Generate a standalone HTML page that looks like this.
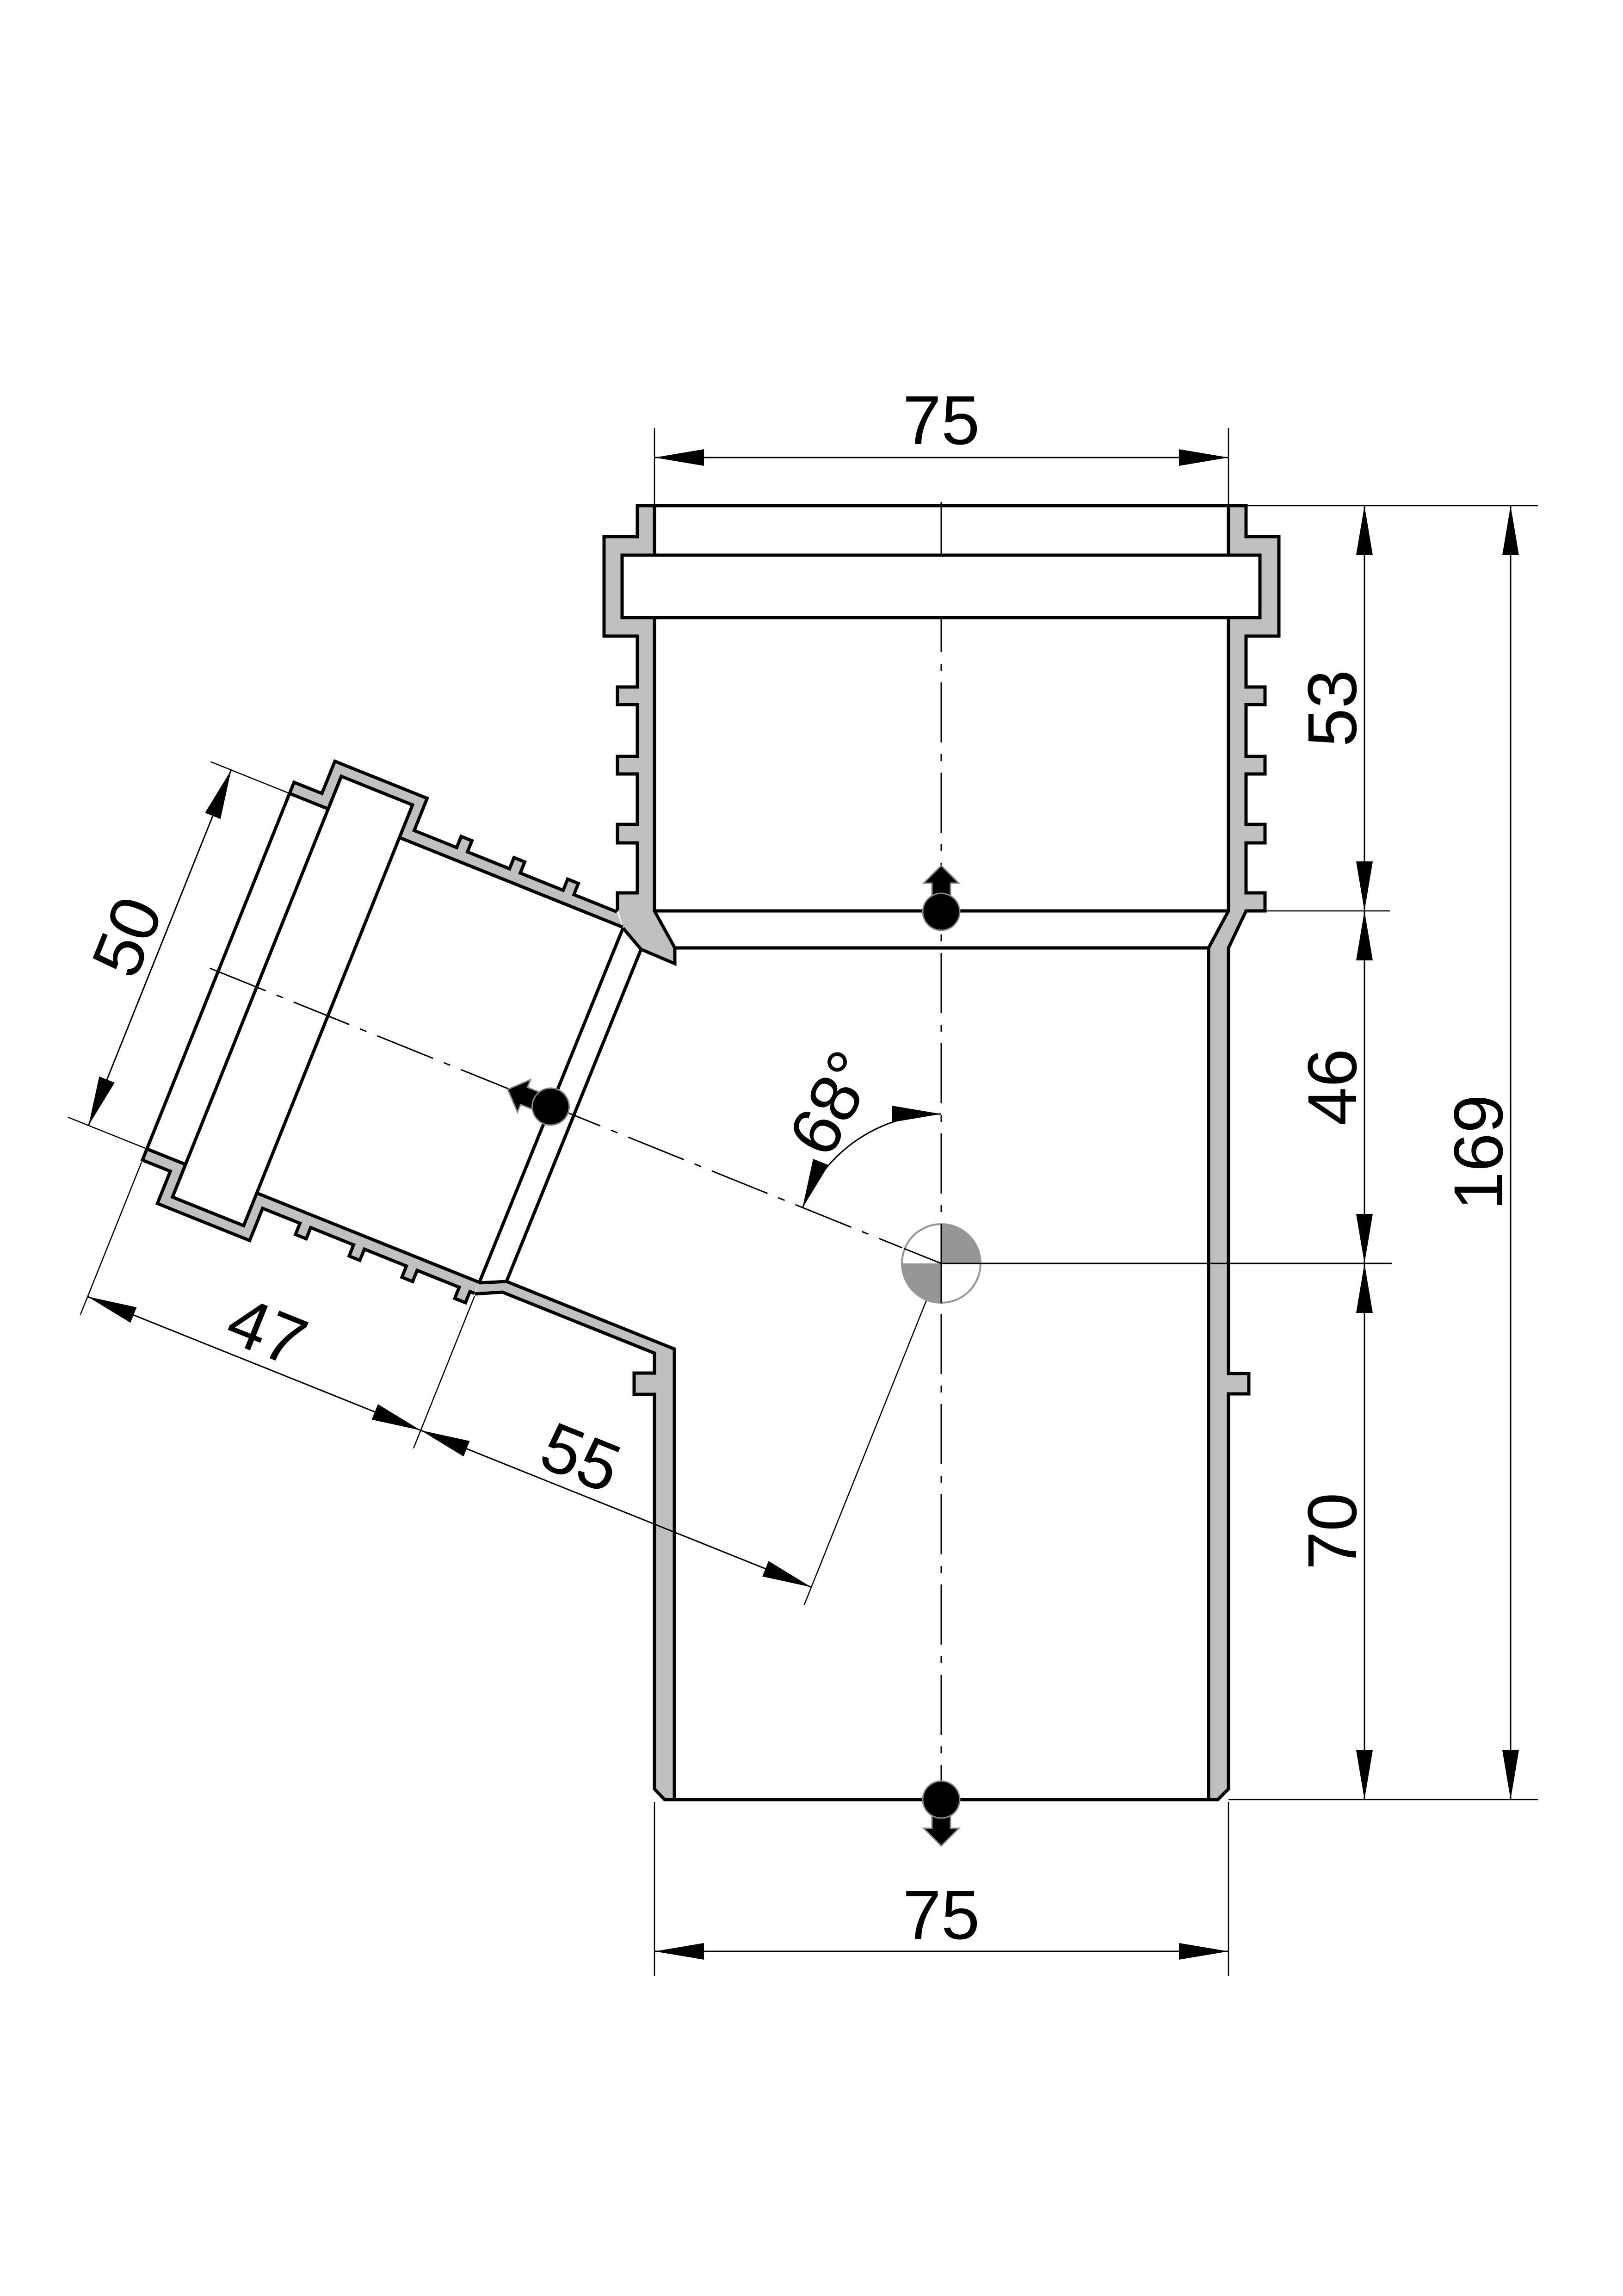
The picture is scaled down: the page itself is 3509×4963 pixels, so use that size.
<!DOCTYPE html>
<html><head><meta charset="utf-8"><style>html,body{margin:0;padding:0;background:#fff}svg{display:block}</style></head>
<body>
<svg xmlns="http://www.w3.org/2000/svg" width="3509" height="4963" viewBox="0 0 3509 4963">
<defs>
<marker id="ar" markerUnits="userSpaceOnUse" markerWidth="110" markerHeight="40" refX="107" refY="18" orient="auto-start-reverse" viewBox="0 0 110 40">
<path d="M0,0 L107,18 L0,36 z" fill="#000"/>
</marker>
</defs>
<rect width="3509" height="4963" fill="#fff"/>
<g font-family="Liberation Sans, DejaVu Sans, sans-serif" font-size="150" fill="#000">

<g stroke="#000" stroke-width="3" fill="none" stroke-dasharray="130 25 15 25">
<line x1="2035" y1="1085" x2="2035" y2="3890"/>
<line x1="454" y1="2093" x2="1950" y2="2697"/>
</g>

<g stroke="#000" stroke-width="7" stroke-linejoin="miter">
<polygon fill="#c0c0c0" stroke="none" points="1347,2006 1386,2052 1459,2083 1459,2049 1415,1969 1415,1093 1378,1093 1378,1160 1306,1160 1306,1375 1378,1375 1378,1485 1335,1485 1335,1523 1378,1523 1378,1635 1335,1635 1335,1673 1378,1673 1378,1782 1335,1782 1335,1822 1378,1822 1378,1930 1335,1930 1335,1967 1337,1967"/>
<polyline fill="none" points="1347,2006 1386,2052 1459,2083 1459,2049 1415,1969 1415,1093 1378,1093 1378,1160 1306,1160 1306,1375 1378,1375 1378,1485 1335,1485 1335,1523 1378,1523 1378,1635 1335,1635 1335,1673 1378,1673 1378,1782 1335,1782 1335,1822 1378,1822 1378,1930 1335,1930 1335,1967 1337,1967"/>

<polygon fill="#c0c0c0" stroke="none" points="1036,2773 1095,2770 1458,2916 1458,3890 1437,3890 1415,3867 1415,3014 1371,3014 1371,2968 1415,2968 1415,2925 1086,2793 1027,2797"/>
<polyline fill="none" points="1036,2773 1095,2770 1458,2916 1458,3890 1437,3890 1415,3867 1415,3014 1371,3014 1371,2968 1415,2968 1415,2925 1086,2793 1027,2797"/>

<polygon fill="#c0c0c0" points="2656,1093 2656,1969 2613,2049 2613,3890 2633,3890 2656,3867 2656,3013 2700,3013 2700,2969 2656,2969 2656,2049 2694,1969 2735,1969 2735,1930 2694,1930 2694,1822 2735,1822 2735,1782 2694,1782 2694,1673 2735,1673 2735,1635 2694,1635 2694,1523 2735,1523 2735,1485 2694,1485 2694,1375 2765,1375 2765,1160 2694,1160 2694,1093"/>

<rect x="1345" y="1200" width="1379" height="135" fill="#fff"/>
<line x1="1415" y1="1093" x2="2656" y2="1093"/>
<line x1="1415" y1="1969" x2="2656" y2="1969"/>
<line x1="1459" y1="2049" x2="2613" y2="2049"/>
<line x1="1437" y1="3890" x2="2633" y2="3890"/>
<line x1="1347" y1="2006" x2="1036" y2="2773"/>
<line x1="1386" y1="2052" x2="1095" y2="2770"/>
</g>

<g transform="translate(2035,2731) rotate(21.87) translate(0,-4)">
<g stroke="#000" stroke-width="7">
<polygon fill="#c0c0c0" stroke="none" points="-910,-414 -1430,-414 -1430,-490 -1596,-490 -1596,-414 -1686,-414 -1686,-440 -1621,-440 -1621,-515 -1406,-515 -1406,-440 -1307,-440 -1307,-466 -1282,-466 -1282,-440 -1184,-440 -1184,-466 -1159,-466 -1159,-440 -1059,-440 -1059,-466 -1034,-466 -1034,-440 -934,-440"/>
<polyline fill="none" points="-910,-414 -1430,-414 -1430,-490 -1596,-490 -1596,-414 -1686,-414 -1686,-440 -1621,-440 -1621,-515 -1406,-515 -1406,-440 -1307,-440 -1307,-466 -1282,-466 -1282,-440 -1184,-440 -1184,-466 -1159,-466 -1159,-440 -1059,-440 -1059,-466 -1034,-466 -1034,-440 -934,-440"/>
<polygon fill="#c0c0c0" stroke="none" points="-912,440 -923,440 -923,466 -948,466 -948,440 -1046,440 -1046,466 -1071,466 -1071,440 -1169,440 -1169,466 -1194,466 -1194,440 -1294,440 -1294,466 -1319,466 -1319,440 -1406,440 -1406,515 -1621,515 -1621,440 -1686,440 -1686,414 -1596,414 -1596,490 -1430,490 -1430,414 -912,414"/>
<polyline fill="none" points="-912,440 -923,440 -923,466 -948,466 -948,440 -1046,440 -1046,466 -1071,466 -1071,440 -1169,440 -1169,466 -1194,466 -1194,440 -1294,440 -1294,466 -1319,466 -1319,440 -1406,440 -1406,515 -1621,515 -1621,440 -1686,440 -1686,414 -1596,414 -1596,490 -1430,490 -1430,414 -912,414"/>
<line x1="-1686" y1="-414" x2="-1686" y2="414"/>
<line x1="-1596" y1="-490" x2="-1596" y2="490"/>
<line x1="-1430" y1="-414" x2="-1430" y2="414"/>
</g>
<g stroke="#000" stroke-width="2.5" fill="none">
<line x1="-1690" y1="-414" x2="-1870" y2="-414"/>
<line x1="-1690" y1="414" x2="-1870" y2="414"/>
<line x1="-1686" y1="445" x2="-1686" y2="800"/>
<line x1="-910" y1="445" x2="-910" y2="800"/>
<line x1="0" y1="4" x2="0" y2="800"/>
</g>
<g stroke="#000" stroke-width="3" fill="none">
<line x1="-1822" y1="-414" x2="-1822" y2="414" marker-start="url(#ar)" marker-end="url(#ar)"/>
<line x1="-1686" y1="758" x2="-910" y2="758" marker-start="url(#ar)" marker-end="url(#ar)"/>
<line x1="-910" y1="758" x2="0" y2="758" marker-start="url(#ar)" marker-end="url(#ar)"/>
</g>
<text transform="translate(-1845,4) rotate(-90)" text-anchor="middle">50</text>
<text x="-1298" y="735" text-anchor="middle">47</text>
<text x="-567" y="735" text-anchor="middle">55</text>
<g transform="translate(-910,4) rotate(-90)" fill="#000" stroke="#888" stroke-width="3">
<polygon points="-20,-30 -20,-62 -38,-62 0,-100 38,-62 20,-62 20,-30"/>
<circle cx="0" cy="0" r="40"/>
</g>
</g>

<circle cx="2035" cy="2731" r="85" fill="#fff" stroke="#969696" stroke-width="4"/>
<path d="M2035,2731 L2035,2646 A85,85 0 0 1 2120,2731 Z" fill="#969696"/>
<path d="M2035,2731 L1950,2731 A85,85 0 0 0 2035,2816 Z" fill="#969696"/>
<g stroke="#000" stroke-width="3" fill="none">
<line x1="2035" y1="2646" x2="2035" y2="2816"/>
<line x1="2035" y1="2731" x2="3010" y2="2731"/>
<line x1="1955" y1="2699" x2="2035" y2="2731"/>
<path d="M1735,2611 A323,323 0 0 1 2035,2408" marker-start="url(#ar)" marker-end="url(#ar)"/>
</g>
<text transform="translate(1810,2390) rotate(-62)" text-anchor="middle" dominant-baseline="middle">68°</text>

<g fill="#000" stroke="#888" stroke-width="3">
<g transform="translate(2035,1971)"><polygon points="-20,-30 -20,-62 -38,-62 0,-100 38,-62 20,-62 20,-30"/><circle r="40"/></g>
<g transform="translate(2035,3890) rotate(180)"><polygon points="-20,-30 -20,-62 -38,-62 0,-100 38,-62 20,-62 20,-30"/><circle r="40"/></g>
</g>

<g stroke="#000" stroke-width="2.5" fill="none">
<line x1="1415" y1="925" x2="1415" y2="1090"/>
<line x1="2656" y1="925" x2="2656" y2="1090"/>
<line x1="1415" y1="3895" x2="1415" y2="4271"/>
<line x1="2656" y1="3895" x2="2656" y2="4271"/>
<line x1="2694" y1="1093" x2="3325" y2="1093"/>
<line x1="2735" y1="1969" x2="3005" y2="1969"/>
<line x1="2656" y1="3890" x2="3325" y2="3890"/>
</g>
<g stroke="#000" stroke-width="3" fill="none">
<line x1="1415" y1="989" x2="2656" y2="989" marker-start="url(#ar)" marker-end="url(#ar)"/>
<line x1="1415" y1="4218" x2="2656" y2="4218" marker-start="url(#ar)" marker-end="url(#ar)"/>
<line x1="2950" y1="1093" x2="2950" y2="1969" marker-start="url(#ar)" marker-end="url(#ar)"/>
<line x1="2950" y1="1969" x2="2950" y2="2731" marker-start="url(#ar)" marker-end="url(#ar)"/>
<line x1="2950" y1="2731" x2="2950" y2="3890" marker-start="url(#ar)" marker-end="url(#ar)"/>
<line x1="3266" y1="1093" x2="3266" y2="3890" marker-start="url(#ar)" marker-end="url(#ar)"/>
</g>
<text x="2035" y="960" text-anchor="middle">75</text>
<text x="2035" y="4191" text-anchor="middle">75</text>
<text transform="translate(2932,1531) rotate(-90)" text-anchor="middle">53</text>
<text transform="translate(2932,2350) rotate(-90)" text-anchor="middle">46</text>
<text transform="translate(2932,3310) rotate(-90)" text-anchor="middle">70</text>
<text transform="translate(3248,2491) rotate(-90)" text-anchor="middle">169</text>
</g>
</svg>
</body></html>
